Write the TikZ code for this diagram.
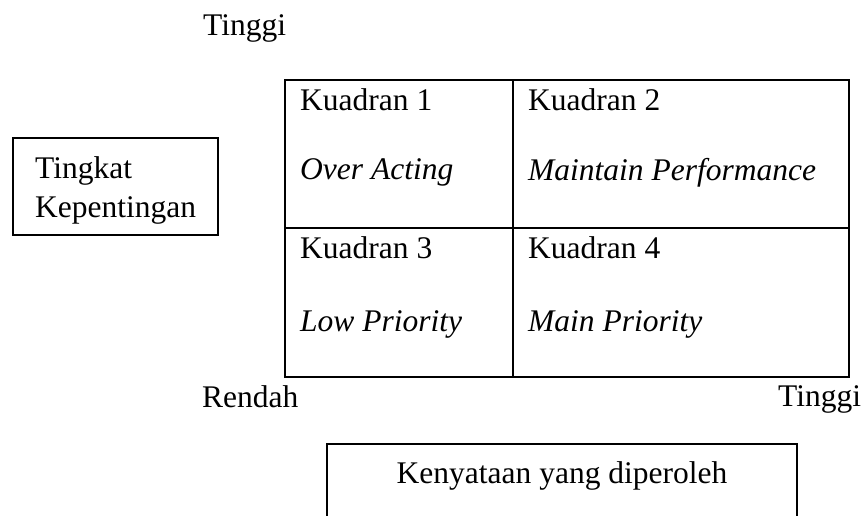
\documentclass[tikz,border=0pt]{standalone}
\usepackage{fontspec}
\setmainfont{Liberation Serif}
\begin{document}
\begin{tikzpicture}[x=1pt,y=-1pt,
  txt/.style={anchor=base west,inner sep=0pt,font=\fontsize{31.5}{37}\selectfont},
  itx/.style={txt,font=\fontsize{31.5}{37}\selectfont\itshape},
  grid/.style={draw=black,line width=2pt},
  box/.style={draw=black,line width=1.4pt}]
\useasboundingbox (0,0) rectangle (867,515);
\clip (0,0) rectangle (867,515);
% top axis label
\node[txt] (ttop) at (203,35) {Tinggi};
% left box
\node[box,minimum width=205pt,minimum height=97pt,inner sep=0pt] (lbox) at (115.5,186.5) {};
\node[txt] (l1) at (35,178) {Tingkat};
\node[txt] (l2) at (35,217) {Kepentingan};
% grid
\coordinate (gtl) at (285,80);
\coordinate (gbr) at (849,377);
\coordinate (vt) at (513,80);
\coordinate (vb) at (513,377);
\coordinate (hl) at (285,228);
\coordinate (hr) at (849,228);
\draw[grid] (gtl) rectangle (gbr);
\draw[grid] (vt) -- (vb);
\draw[grid] (hl) -- (hr);
\node[txt] (k1) at (300,110) {Kuadran 1};
\node[itx] (q1) at (300,179) {Over Acting};
\node[txt] (k2) at (528,110) {Kuadran 2};
\node[itx] (q2) at (528,180) {Maintain Performance};
\node[txt] (k3) at (300,258) {Kuadran 3};
\node[itx] (q3) at (300,331) {Low Priority};
\node[txt] (k4) at (528,258) {Kuadran 4};
\node[itx] (q4) at (528,331) {Main Priority};
% bottom axis labels
\node[txt] (rend) at (202,407) {Rendah};
\node[txt] (tright) at (778,406) {Tinggi};
% bottom box
\coordinate (btl) at (327,444);
\coordinate (bbr) at (797,540);
\draw[box] (btl) rectangle (bbr);
\node[txt,anchor=base] (bt) at (562,483) {Kenyataan yang diperoleh};
\end{tikzpicture}
\end{document}
